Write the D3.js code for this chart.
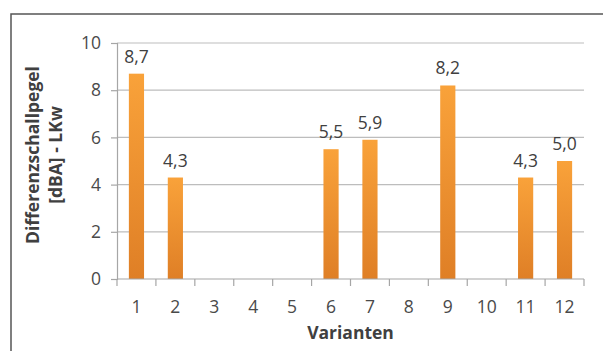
<!DOCTYPE html>
<html>
<head>
<meta charset="utf-8">
<script src="https://cdn.jsdelivr.net/npm/d3@7"></script>
<style>
  html, body { margin: 0; padding: 0; background: #fff; }
  svg { display: block; }
</style>
</head>
<body>
<svg id="chart" width="603" height="351"></svg>
<script>
// Varianten and their Differenzschallpegel (dBA), null where no bar is drawn
const categories = ["1", "2", "3", "4", "5", "6", "7", "8", "9", "10", "11", "12"];
const values = [8.7, 4.3, null, null, null, 5.5, 5.9, null, 8.2, null, 4.3, 5.0];
const yTicks = [0, 2, 4, 6, 8, 10];
const yTitleLines = ["Differenzschallpegel", "[dBA] - LKw"];
const xTitle = "Varianten";

const svg = d3.select("#chart");
const font = "'Open Sans', 'Noto Sans', sans-serif";

// outer frame (top and left edges visible)
svg.append("rect")
  .attr("x", 11).attr("y", 14)
  .attr("width", 620).attr("height", 360)
  .attr("fill", "none")
  .attr("stroke", "#555").attr("stroke-width", 1.5);

const plot = { left: 117, right: 584, top: 43, bottom: 279 };

const x = d3.scaleBand()
  .domain(categories)
  .range([plot.left, plot.right])
  .paddingInner(0.61)
  .paddingOuter(0.305);

const xOuter = d3.scaleBand()
  .domain(categories)
  .range([plot.left, plot.right]);

const y = d3.scaleLinear().domain([0, 10]).range([plot.bottom, plot.top]);

// bar gradient
const defs = svg.append("defs");
const grad = defs.append("linearGradient")
  .attr("id", "barGrad").attr("x1", 0).attr("y1", 0).attr("x2", 0).attr("y2", 1);
grad.append("stop").attr("offset", "0%").attr("stop-color", "#f9a23a");
grad.append("stop").attr("offset", "100%").attr("stop-color", "#df7f26");

// horizontal gridlines
svg.append("g")
  .selectAll("line")
  .data(yTicks.filter(d => d > 0))
  .join("line")
  .attr("x1", plot.left).attr("x2", plot.right)
  .attr("y1", d => y(d)).attr("y2", d => y(d))
  .attr("stroke", "#bdbdbd").attr("stroke-width", 1.2);

// y axis
const yAxis = svg.append("g")
  .attr("transform", `translate(${plot.left},0)`)
  .call(d3.axisLeft(y).tickValues(yTicks).tickSize(6).tickPadding(10).tickFormat(d3.format("d")));
yAxis.select(".domain").attr("stroke", "#a6a6a6").attr("stroke-width", 1.2);
yAxis.selectAll(".tick line").attr("stroke", "#a6a6a6").attr("stroke-width", 1.2);
yAxis.selectAll(".tick text")
  .attr("font-family", font).attr("font-size", 17.5).attr("fill", "#4a4a4a");

// bars
const data = categories.map((c, i) => ({ c, v: values[i] })).filter(d => d.v != null);

svg.append("g")
  .selectAll("rect")
  .data(data)
  .join("rect")
  .attr("x", d => x(d.c))
  .attr("width", x.bandwidth())
  .attr("y", d => y(d.v))
  .attr("height", d => y(0) - y(d.v))
  .attr("fill", "url(#barGrad)");

// x axis with ticks on category boundaries
const xg = svg.append("g").attr("transform", `translate(0,${plot.bottom})`);
xg.append("line")
  .attr("x1", plot.left).attr("x2", plot.right)
  .attr("stroke", "#a6a6a6").attr("stroke-width", 1.2);
const bounds = categories.map(c => xOuter(c)).concat([plot.right]);
xg.selectAll("line.tk")
  .data(bounds)
  .join("line")
  .attr("class", "tk")
  .attr("x1", d => d).attr("x2", d => d)
  .attr("y1", 0).attr("y2", 7)
  .attr("stroke", "#a6a6a6").attr("stroke-width", 1.2);
xg.selectAll("text")
  .data(categories)
  .join("text")
  .attr("x", d => xOuter(d) + xOuter.bandwidth() / 2)
  .attr("y", 34)
  .attr("text-anchor", "middle")
  .attr("font-family", font).attr("font-size", 17.5).attr("fill", "#4a4a4a")
  .text(d => d);

// value labels with decimal comma
const fmt = v => d3.format(".1f")(v).replace(".", ",");
svg.append("g")
  .selectAll("text")
  .data(data)
  .join("text")
  .attr("x", d => x(d.c) + x.bandwidth() / 2)
  .attr("y", d => y(d.v) - 11)
  .attr("text-anchor", "middle")
  .attr("font-family", font).attr("font-size", 17.5).attr("fill", "#404040")
  .text(d => fmt(d.v));

// axis titles
svg.append("text")
  .attr("x", (plot.left + plot.right) / 2)
  .attr("y", 339)
  .attr("text-anchor", "middle")
  .attr("font-family", font).attr("font-size", 17.5).attr("font-weight", "bold")
  .attr("fill", "#404040")
  .text(xTitle);

const yTitle = svg.append("text")
  .attr("transform", "translate(0,155) rotate(-90)")
  .attr("text-anchor", "middle")
  .attr("font-family", font).attr("font-size", 17.5).attr("font-weight", "bold")
  .attr("fill", "#404040");
yTitle.selectAll("tspan")
  .data(yTitleLines)
  .join("tspan")
  .attr("x", 0)
  .attr("y", (d, i) => 39 + i * 23)
  .text(d => d);
</script>
</body>
</html>
